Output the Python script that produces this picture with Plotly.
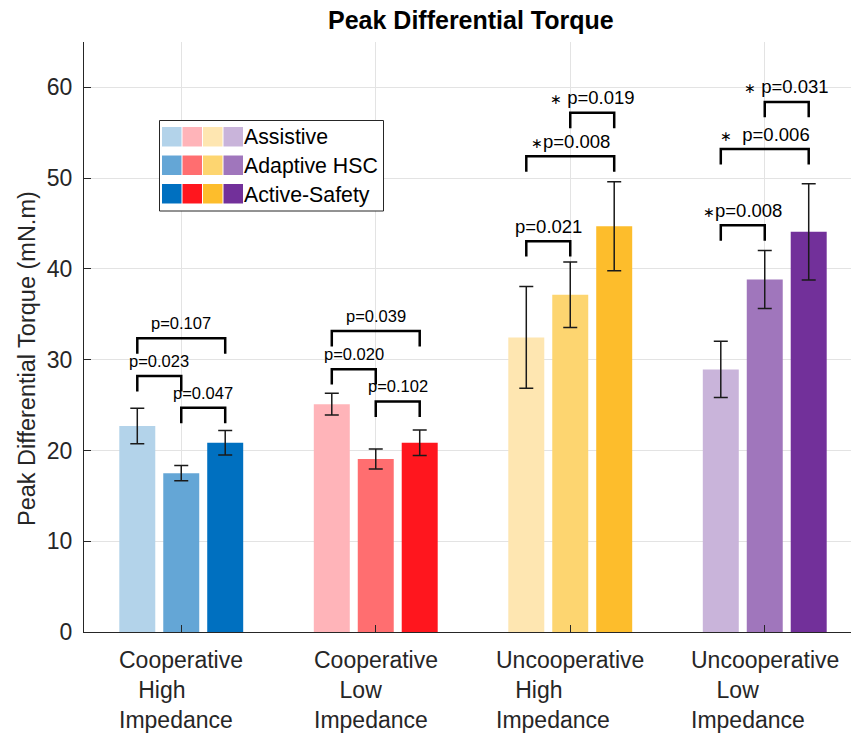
import plotly.graph_objects as go

# ---------------- data ----------------
group_pos = [1, 2, 3, 4]
group_labels = [
    "Cooperative<br>\u00a0\u00a0\u00a0High<br>Impedance",
    "Cooperative<br>\u00a0\u00a0\u00a0\u00a0Low<br>Impedance",
    "Uncooperative<br>\u00a0\u00a0\u00a0High<br>Impedance",
    "Uncooperative<br>\u00a0\u00a0\u00a0\u00a0Low<br>Impedance",
]
conditions = ["Assistive", "Adaptive HSC", "Active-Safety"]

assistive_mean = [22.7, 25.1, 32.45, 28.93]
adaptive_mean = [17.5, 19.05, 37.15, 38.84]
active_mean = [20.85, 20.85, 44.7, 44.09]

assistive_sd = [1.95, 1.2, 5.6, 3.1]
adaptive_sd = [0.85, 1.1, 3.6, 3.2]
active_sd = [1.35, 1.4, 4.9, 5.3]

# colours: rows = condition, columns = group
assistive_colors = ["#b3d3ea", "#ffb4b9", "#fee6b1", "#c9b4da"]
adaptive_colors = ["#64a6d6", "#ff6e70", "#fdd570", "#a076bc"]
active_colors = ["#0070c0", "#ff161e", "#fdbd2c", "#72309a"]

# significance brackets: (group index, bar a, bar b, bracket level, label, significant)
bracket_group = [0, 0, 0, 1, 1, 1, 2, 2, 2, 3, 3, 3]
bracket_a = [0, 1, 0, 0, 1, 0, 0, 0, 1, 0, 0, 1]
bracket_b = [1, 2, 2, 1, 2, 2, 1, 2, 2, 1, 2, 2]
bracket_level = [28.2, 24.7, 32.35, 28.96, 25.4, 33.15, 43.06, 52.4, 57.2, 44.8, 53.2, 58.4]
bracket_text = ["p=0.023", "p=0.047", "p=0.107", "p=0.020", "p=0.102", "p=0.039",
                "p=0.021", "p=0.008", " p=0.019", "p=0.008", "\u00a0 p=0.006", " p=0.031"]
bracket_sig = [False, False, False, False, False, False, False, True, True, True, True, True]

# ---------------- figure ----------------
BAR_OFF = 0.226
BAR_W = 0.185
means = [assistive_mean, adaptive_mean, active_mean]
sds = [assistive_sd, adaptive_sd, active_sd]
cols = [assistive_colors, adaptive_colors, active_colors]

fig = go.Figure()
for k in range(3):
    fig.add_trace(go.Bar(
        x=[g + (k - 1) * BAR_OFF for g in group_pos],
        y=means[k],
        width=BAR_W,
        marker=dict(color=cols[k], line=dict(width=0)),
        error_y=dict(type="data", array=sds[k], color="#1a1a1a", thickness=1.5, width=7),
        name=conditions[k],
        showlegend=False,
    ))

annotations = []
for i in range(len(bracket_level)):
    g = group_pos[bracket_group[i]]
    xa = g + (bracket_a[i] - 1) * BAR_OFF
    xb = g + (bracket_b[i] - 1) * BAR_OFF
    yl = bracket_level[i]
    drop = 1.7
    fig.add_trace(go.Scatter(
        x=[xa, xa, xb, xb], y=[yl - drop, yl, yl, yl - drop],
        mode="lines", line=dict(color="black", width=2.5),
        showlegend=False, hoverinfo="skip",
    ))
    big = bracket_group[i] >= 2
    star = "<span style='font-size:14px'>∗</span>" if bracket_sig[i] else ""
    annotations.append(dict(
        x=(xa + xb) / 2, y=yl, xref="x", yref="y", text=star + bracket_text[i],
        showarrow=False, yanchor="middle", yshift=15,
        font=dict(size=18.5 if big else 16.5, color="black", family="Liberation Sans"),
    ))

# x-axis group labels
for g, lab in zip(group_pos, group_labels):
    annotations.append(dict(
        x=g, y=-0.022, xref="x", yref="paper", text=lab, showarrow=False,
        xanchor="center", yanchor="top", align="left",
        font=dict(size=23, color="#262626", family="Liberation Sans"),
    ))

L, T, W, H = 84, 42, 767, 590
def px_x(p):
    return (p - L) / W
def px_y(p):
    return (T + H - p) / H

# title and y label
annotations.append(dict(
    x=px_x(471), y=px_y(20), xref="paper", yref="paper", showarrow=False,
    text="<b>Peak Differential Torque</b>", yanchor="middle", xanchor="center",
    font=dict(size=25, color="black", family="Liberation Sans"),
))
annotations.append(dict(
    x=px_x(27), y=px_y(359), xref="paper", yref="paper", showarrow=False,
    text="Peak Differential Torque (mN.m)", textangle=-90,
    xanchor="center", yanchor="middle",
    font=dict(size=23.5, color="#262626", family="Liberation Sans"),
))

# custom legend
shapes = [dict(type="rect", xref="paper", yref="paper",
               x0=px_x(159.5), x1=px_x(383.5), y0=px_y(211), y1=px_y(120.5),
               line=dict(color="#262626", width=1), fillcolor="white", layer="above")]
row_top = [127, 155.5, 184]
col_left = [162, 182.5, 203, 223.5]
for r in range(3):
    for c in range(4):
        shapes.append(dict(type="rect", xref="paper", yref="paper",
                           x0=px_x(col_left[c]), x1=px_x(col_left[c] + 19.5),
                           y0=px_y(row_top[r] + 19.5), y1=px_y(row_top[r]),
                           line=dict(width=0), fillcolor=cols[r][c], layer="above"))
    annotations.append(dict(
        x=px_x(242), y=px_y(row_top[r] + 10.5), xref="paper", yref="paper",
        text=conditions[r], showarrow=False, xanchor="left", yanchor="middle",
        font=dict(size=21.3, color="black", family="Liberation Sans"),
    ))

fig.update_layout(
    width=851, height=740,
    margin=dict(l=L, r=851 - L - W, t=T, b=740 - T - H),
    plot_bgcolor="white", paper_bgcolor="white",
    barmode="overlay",
    annotations=annotations, shapes=shapes,
    font=dict(family="Liberation Sans", size=23, color="#262626"),
    showlegend=False,
)
fig.update_xaxes(
    range=[0.5, 0.5 + W / 194.5], tickvals=group_pos, showticklabels=False,
    showgrid=True, gridcolor="#e3e3e3", gridwidth=1,
    showline=True, linecolor="#262626", linewidth=1,
    ticks="inside", ticklen=7, tickcolor="#262626", zeroline=False,
)
fig.update_yaxes(
    range=[0, 65], tickvals=[0, 10, 20, 30, 40, 50, 60],
    showgrid=True, gridcolor="#e3e3e3", gridwidth=1,
    showline=True, linecolor="#262626", linewidth=1,
    ticks="inside", ticklen=7, tickcolor="#262626", zeroline=False,
    tickfont=dict(size=23, color="#262626"), ticklabelstandoff=6,
)

fig.write_html("out.html")
